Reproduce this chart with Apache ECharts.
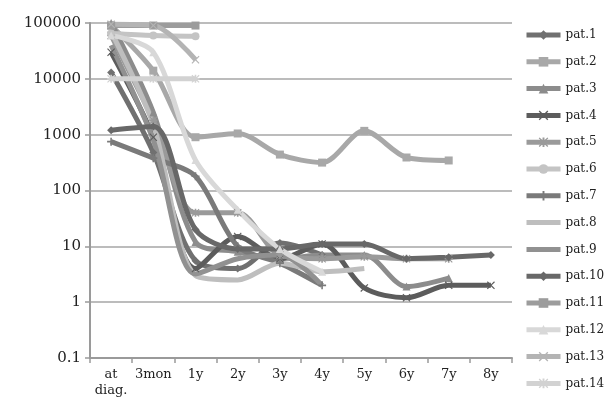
<!DOCTYPE html>
<html><head><meta charset="utf-8">
<script src="https://cdn.jsdelivr.net/npm/echarts@6/dist/echarts.min.js"></script>
<style>html,body{margin:0;padding:0;background:#fff}#c{width:605px;height:402px}</style>
</head><body><div id="c"></div>
<script>
var categories = ["at\ndiag.","3mon","1y","2y","3y","4y","5y","6y","7y","8y"];
var yTickLabels = ["0.1","1","10","100","1000","10000","100000"];
var seriesNames = ["pat.1","pat.2","pat.3","pat.4","pat.5","pat.6","pat.7","pat.8","pat.9","pat.10","pat.11","pat.12","pat.13","pat.14"];
var pat1  = [13000, 480, 5.5, 4, 11.5, 7];
var pat2  = [90000, 14000, 900, 1050, 440, 316, 1170, 390, 345];
var pat3  = [100000, 2500, 12, 8, 6, 7, 7, 1.9, 2.7];
var pat4  = [30000, 900, 4, 15, 6, 11, 1.8, 1.2, 2, 2];
var pat5  = [60000, 1800, 40, 40, 7, 6, 6.5, 6, 6];
var pat6  = [65000, 60000, 58000];
var pat7  = [750, 380, 180, 10, 5, 2];
var pat8  = [70000, 1500, 3, 2.5, 5, 3.5, 4];
var pat9  = [40000, 800, 3.2, 6, 7, 2];
var pat10 = [1200, 1400, 20, 9, 9, 11, 11, 6, 6.4, 7];
var pat11 = [90000, 90000, 90000];
var pat12 = [60000, 30000, 350, 45, 9, 3.5];
var pat13 = [95000, 90000, 22000];
var pat14 = [10000, 10000, 10000];
var allData = [pat1,pat2,pat3,pat4,pat5,pat6,pat7,pat8,pat9,pat10,pat11,pat12,pat13,pat14];

var colors = ["#707070","#a8a8a8","#8c8c8c","#5c5c5c","#9a9a9a","#c4c4c4","#7a7a7a","#bebebe","#919191","#686868","#9c9c9c","#d8d8d8","#b4b4b4","#d2d2d2"];
var X = 'path://M0,1L1,0L5,4L9,0L10,1L6,5L10,9L9,10L5,6L1,10L0,9L4,5Z';
var PLUS = 'path://M4,0H6V4H10V6H6V10H4V6H0V4H4Z';
var AST = 'path://M0,1L1,0L5,4L9,0L10,1L6,5L10,9L9,10L5,6L1,10L0,9L4,5ZM4,0H6V4H10V6H6V10H4V6H0V4H4Z';
var BAR = 'path://M0,0H34V5H0Z';
var symbols = ["diamond","rect","triangle",X,AST,"circle",PLUS,"none","none","diamond","rect","triangle",X,AST];
var sizes = [8,8,8,8,8,8,8,0,0,8,8,8,8,8];

var series = allData.map(function(d,i){
  return {
    name: seriesNames[i], type:'line', data:d, smooth:0.3,
    symbol: symbols[i], symbolSize: sizes[i], showSymbol: symbols[i] !== 'none',
    lineStyle:{width:5, color:colors[i]},
    itemStyle:{color:colors[i]},
    emphasis:{disabled:true}
  };
});
var legendData = seriesNames.map(function(n,i){
  return symbols[i] === 'none' ? {name:n, icon:BAR} : {name:n};
});

var chart = echarts.init(document.getElementById('c'));
chart.setOption({
  animation:false,
  color: colors,
  grid:{left:90, right:93, top:23, bottom:44, containLabel:false},
  legend:{
    orient:'vertical', left:524, top:29, padding:0, itemWidth:34, itemHeight:12, itemGap:14.8,
    lineStyle:{width:5},
    textStyle:{fontFamily:'DejaVu Serif', fontSize:12, color:'#222'},
    data: legendData
  },
  xAxis:{
    type:'category', data:categories, boundaryGap:true,
    axisLine:{lineStyle:{color:'#9a9a9a', width:2}},
    axisTick:{show:true, length:5, lineStyle:{color:'#9a9a9a', width:1.5}},
    axisLabel:{fontFamily:'DejaVu Serif', fontSize:13, color:'#222', margin:9, lineHeight:16, interval:0}
  },
  yAxis:{
    type:'log', logBase:10, min:0.1, max:100000,
    axisLine:{show:true, lineStyle:{color:'#9a9a9a', width:2}},
    axisTick:{show:true, length:5, lineStyle:{color:'#9a9a9a', width:1.5}},
    splitLine:{show:true, lineStyle:{color:'#a6a6a6', width:1.5}},
    axisLabel:{fontFamily:'DejaVu Serif', fontSize:15, color:'#222', margin:9,
      formatter:function(v){ var k = Math.round(Math.log10(v)) + 1; return yTickLabels[k] || ''; }}
  },
  series: series
});
</script></body></html>
